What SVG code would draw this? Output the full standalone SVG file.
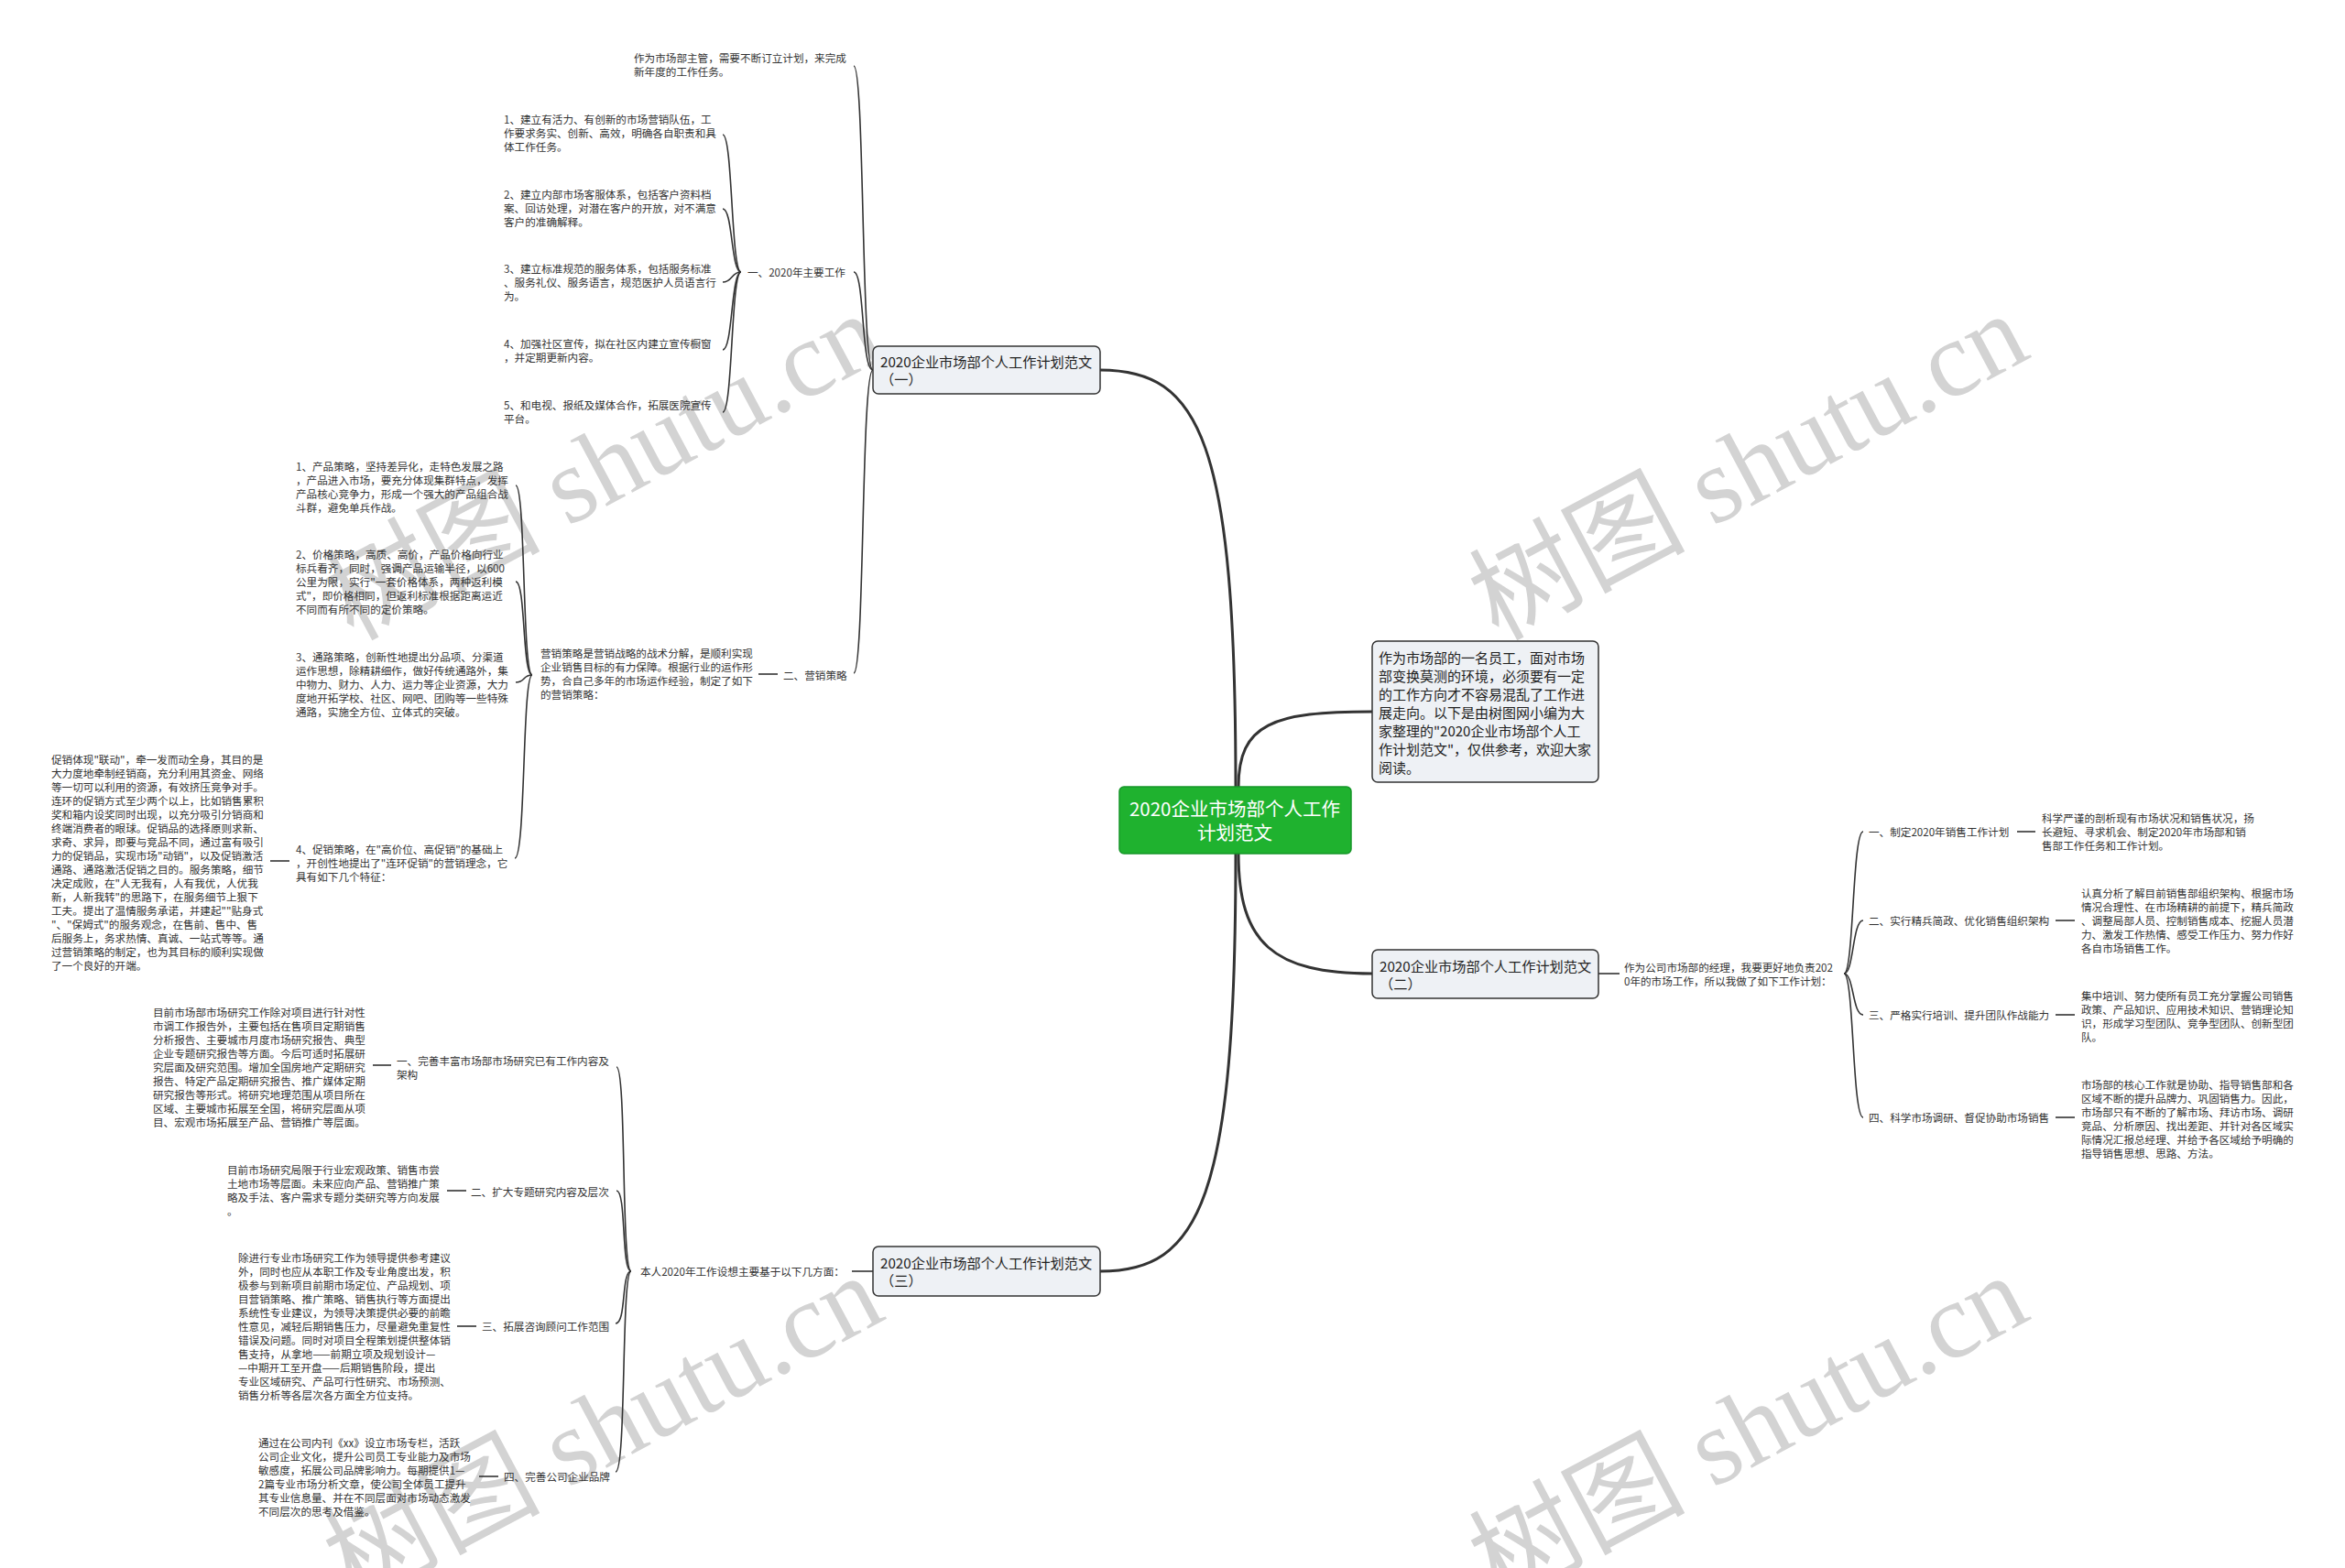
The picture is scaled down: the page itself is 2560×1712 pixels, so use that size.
<svg xmlns="http://www.w3.org/2000/svg" width="2560" height="1712" viewBox="0 0 2560 1712">
<style>
.wm{font-family:"Liberation Serif","Noto Sans CJK SC",serif;font-size:118px;fill:#d3d3d3}
.t{font-family:"Noto Sans CJK SC","Microsoft YaHei",sans-serif;font-size:11.6px;fill:#333;dominant-baseline:central}
.n{font-family:"Noto Sans CJK SC",sans-serif;font-size:15.2px;fill:#222;dominant-baseline:central}
.i{font-family:"Noto Sans CJK SC",sans-serif;font-size:15px;fill:#222;dominant-baseline:central}
.r{font-family:"Noto Sans CJK SC",sans-serif;font-size:20.5px;fill:#fff;dominant-baseline:central;text-anchor:middle}
.box{fill:#eef1f5;stroke:#333;stroke-width:1.5}
.root{fill:#1fb22f;stroke:#17962a;stroke-width:1.5}
.c{fill:none;stroke:#333;stroke-width:1.6}
.cm{fill:none;stroke:#333;stroke-width:3}
</style>
<rect width="2560" height="1712" fill="#fff"/>
<g id="watermarks">
<text class="wm" x="385" y="700" transform="rotate(-28 385 700)">树图 shutu.cn</text>
<text class="wm" x="1635" y="700" transform="rotate(-28 1635 700)">树图 shutu.cn</text>
<text class="wm" x="385" y="1750" transform="rotate(-28 385 1750)">树图 shutu.cn</text>
<text class="wm" x="1635" y="1750" transform="rotate(-28 1635 1750)">树图 shutu.cn</text>
</g>
<g id="connectors">
<path class="cm" d="M1349,859 C1349,480 1310,404 1201,404"/>
<path class="cm" d="M1349,932 C1349,1310 1310,1388 1201,1388"/>
<path class="cm" d="M1352,859 C1352,790 1390,777 1498,777"/>
<path class="cm" d="M1352,932 C1352,1030 1390,1063 1498,1063"/>
<path class="c" d="M953,404 C940,404 944,72 932,72"/>
<path class="c" d="M953,404 C940,404 944,297 932,297"/>
<path class="c" d="M953,404 C940,404 944,735 932,735"/>
<path class="c" d="M809,297 C798,297 800,147 789,147"/>
<path class="c" d="M809,297 C798,297 800,228 789,228"/>
<path class="c" d="M809,297 C798,297 800,308 789,308"/>
<path class="c" d="M809,297 C798,297 800,382 789,382"/>
<path class="c" d="M809,297 C798,297 800,450 789,450"/>
<line class="c" x1="828" y1="736" x2="849" y2="736"/>
<path class="c" d="M581,737 C570,737 574,530 563,530"/>
<path class="c" d="M581,737 C570,737 574,635 563,635"/>
<path class="c" d="M581,737 C570,737 574,745 563,745"/>
<path class="c" d="M581,737 C570,737 574,937 562,937"/>
<line class="c" x1="295" y1="940" x2="316" y2="940"/>
<line class="c" x1="1745" y1="1063" x2="1768" y2="1063"/>
<path class="c" d="M2013,1063 C2024,1063 2022,908 2034,908"/>
<path class="c" d="M2013,1063 C2024,1063 2022,1005 2034,1005"/>
<path class="c" d="M2013,1063 C2024,1063 2022,1108 2034,1108"/>
<path class="c" d="M2013,1063 C2024,1063 2022,1220 2034,1220"/>
<line class="c" x1="2202" y1="908" x2="2222" y2="908"/>
<line class="c" x1="2244" y1="1005" x2="2265" y2="1005"/>
<line class="c" x1="2244" y1="1108" x2="2265" y2="1108"/>
<line class="c" x1="2244" y1="1220" x2="2265" y2="1220"/>
<line class="c" x1="930" y1="1388" x2="953" y2="1388"/>
<path class="c" d="M689,1388 C678,1388 684,1165 673,1165"/>
<path class="c" d="M689,1388 C678,1388 684,1300 673,1300"/>
<path class="c" d="M689,1388 C678,1388 684,1445 672,1445"/>
<path class="c" d="M689,1388 C678,1388 684,1607 672,1607"/>
<line class="c" x1="407" y1="1163" x2="427" y2="1163"/>
<line class="c" x1="488" y1="1300" x2="509" y2="1300"/>
<line class="c" x1="499" y1="1448" x2="520" y2="1448"/>
<line class="c" x1="523" y1="1612" x2="544" y2="1612"/>
</g>
<g id="root">
<rect class="root" x="1222" y="859" width="253" height="73" rx="5"/>
<text class="r" x="1348" y="882">2020企业市场部个人工作</text>
<text class="r" x="1348" y="908">计划范文</text>
</g>
<g id="intro">
<rect class="box" x="1498" y="700" width="247" height="154" rx="6"/>
<text class="i" x="1505" y="717">作为市场部的一名员工，面对市场</text>
<text class="i" x="1505" y="737">部变换莫测的环境，必须要有一定</text>
<text class="i" x="1505" y="757">的工作方向才不容易混乱了工作进</text>
<text class="i" x="1505" y="777">展走向。以下是由树图网小编为大</text>
<text class="i" x="1505" y="797">家整理的"2020企业市场部个人工</text>
<text class="i" x="1505" y="817">作计划范文"，仅供参考，欢迎大家</text>
<text class="i" x="1505" y="837">阅读。</text>
</g>
<g id="node1">
<rect class="box" x="953" y="378" width="248" height="52" rx="6"/>
<text class="n" x="961" y="394">2020企业市场部个人工作计划范文</text>
<text class="n" x="961" y="413">（一）</text>
</g>
<g id="node1-intro">
<text class="t" x="692" y="63">作为市场部主管，需要不断订立计划，来完成</text>
<text class="t" x="692" y="78">新年度的工作任务。</text>
</g>
<g id="node1-a">
<text class="t" x="816" y="297">一、2020年主要工作</text>
</g>
<g id="node1-a-items">
<text class="t" x="550" y="130">1、建立有活力、有创新的市场营销队伍，工</text>
<text class="t" x="550" y="145">作要求务实、创新、高效，明确各自职责和具</text>
<text class="t" x="550" y="160">体工作任务。</text>
<text class="t" x="550" y="212">2、建立内部市场客服体系，包括客户资料档</text>
<text class="t" x="550" y="227">案、回访处理，对潜在客户的开放，对不满意</text>
<text class="t" x="550" y="242">客户的准确解释。</text>
<text class="t" x="550" y="293">3、建立标准规范的服务体系，包括服务标准</text>
<text class="t" x="550" y="308">、服务礼仪、服务语言，规范医护人员语言行</text>
<text class="t" x="550" y="323">为。</text>
<text class="t" x="550" y="375">4、加强社区宣传，拟在社区内建立宣传橱窗</text>
<text class="t" x="550" y="390">，并定期更新内容。</text>
<text class="t" x="550" y="442">5、和电视、报纸及媒体合作，拓展医院宣传</text>
<text class="t" x="550" y="457">平台。</text>
</g>
<g id="node1-b">
<text class="t" x="855" y="737">二、营销策略</text>
<text class="t" x="590" y="713">营销策略是营销战略的战术分解，是顺利实现</text>
<text class="t" x="590" y="728">企业销售目标的有力保障。根据行业的运作形</text>
<text class="t" x="590" y="743">势，合自己多年的市场运作经验，制定了如下</text>
<text class="t" x="590" y="758">的营销策略：</text>
</g>
<g id="node1-b-items">
<text class="t" x="323" y="509">1、产品策略，坚持差异化，走特色发展之路</text>
<text class="t" x="323" y="524">，产品进入市场，要充分体现集群特点，发挥</text>
<text class="t" x="323" y="539">产品核心竞争力，形成一个强大的产品组合战</text>
<text class="t" x="323" y="554">斗群，避免单兵作战。</text>
<text class="t" x="323" y="605">2、价格策略，高质、高价，产品价格向行业</text>
<text class="t" x="323" y="620">标兵看齐，同时，强调产品运输半径，以600</text>
<text class="t" x="323" y="635">公里为限，实行"一套价格体系，两种返利模</text>
<text class="t" x="323" y="650">式"，即价格相同，但返利标准根据距离运近</text>
<text class="t" x="323" y="665">不同而有所不同的定价策略。</text>
<text class="t" x="323" y="717">3、通路策略，创新性地提出分品项、分渠道</text>
<text class="t" x="323" y="732">运作思想，除精耕细作，做好传统通路外，集</text>
<text class="t" x="323" y="747">中物力、财力、人力、运力等企业资源，大力</text>
<text class="t" x="323" y="762">度地开拓学校、社区、网吧、团购等一些特殊</text>
<text class="t" x="323" y="777">通路，实施全方位、立体式的突破。</text>
<text class="t" x="323" y="927">4、促销策略，在"高价位、高促销"的基础上</text>
<text class="t" x="323" y="942">，开创性地提出了"连环促销"的营销理念，它</text>
<text class="t" x="323" y="957">具有如下几个特征：</text>
</g>
<g id="node1-b-4-detail">
<text class="t" x="56" y="829">促销体现"联动"，牵一发而动全身，其目的是</text>
<text class="t" x="56" y="844">大力度地牵制经销商，充分利用其资金、网络</text>
<text class="t" x="56" y="859">等一切可以利用的资源，有效挤压竞争对手。</text>
<text class="t" x="56" y="874">连环的促销方式至少两个以上，比如销售累积</text>
<text class="t" x="56" y="889">奖和箱内设奖同时出现，以充分吸引分销商和</text>
<text class="t" x="56" y="904">终端消费者的眼球。促销品的选择原则求新、</text>
<text class="t" x="56" y="919">求奇、求异，即要与竞品不同，通过富有吸引</text>
<text class="t" x="56" y="934">力的促销品，实现市场"动销"，以及促销激活</text>
<text class="t" x="56" y="949">通路、通路激活促销之目的。服务策略，细节</text>
<text class="t" x="56" y="964">决定成败，在"人无我有，人有我优，人优我</text>
<text class="t" x="56" y="979">新，人新我转"的思路下，在服务细节上狠下</text>
<text class="t" x="56" y="994">工夫。提出了温情服务承诺，并建起""贴身式</text>
<text class="t" x="56" y="1009">"、"保姆式"的服务观念，在售前、售中、售</text>
<text class="t" x="56" y="1024">后服务上，务求热情、真诚、一站式等等。通</text>
<text class="t" x="56" y="1039">过营销策略的制定，也为其目标的顺利实现做</text>
<text class="t" x="56" y="1054">了一个良好的开端。</text>
</g>
<g id="node2">
<rect class="box" x="1498" y="1037" width="247" height="53" rx="6"/>
<text class="n" x="1506" y="1054">2020企业市场部个人工作计划范文</text>
<text class="n" x="1506" y="1073">（二）</text>
</g>
<g id="node2-intro">
<text class="t" x="1773" y="1056">作为公司市场部的经理，我要更好地负责202</text>
<text class="t" x="1773" y="1071">0年的市场工作，所以我做了如下工作计划：</text>
</g>
<g id="node2-items">
<text class="t" x="2040" y="908">一、制定2020年销售工作计划</text>
<text class="t" x="2229" y="893">科学严谨的剖析现有市场状况和销售状况，扬</text>
<text class="t" x="2229" y="908">长避短、寻求机会、制定2020年市场部和销</text>
<text class="t" x="2229" y="923">售部工作任务和工作计划。</text>
<text class="t" x="2040" y="1005">二、实行精兵简政、优化销售组织架构</text>
<text class="t" x="2272" y="975">认真分析了解目前销售部组织架构、根据市场</text>
<text class="t" x="2272" y="990">情况合理性、在市场精耕的前提下，精兵简政</text>
<text class="t" x="2272" y="1005">、调整局部人员、控制销售成本、挖掘人员潜</text>
<text class="t" x="2272" y="1020">力、激发工作热情、感受工作压力、努力作好</text>
<text class="t" x="2272" y="1035">各自市场销售工作。</text>
<text class="t" x="2040" y="1108">三、严格实行培训、提升团队作战能力</text>
<text class="t" x="2272" y="1087">集中培训、努力使所有员工充分掌握公司销售</text>
<text class="t" x="2272" y="1102">政策、产品知识、应用技术知识、营销理论知</text>
<text class="t" x="2272" y="1117">识，形成学习型团队、竞争型团队、创新型团</text>
<text class="t" x="2272" y="1132">队。</text>
<text class="t" x="2040" y="1220">四、科学市场调研、督促协助市场销售</text>
<text class="t" x="2272" y="1184">市场部的核心工作就是协助、指导销售部和各</text>
<text class="t" x="2272" y="1199">区域不断的提升品牌力、巩固销售力。因此，</text>
<text class="t" x="2272" y="1214">市场部只有不断的了解市场、拜访市场、调研</text>
<text class="t" x="2272" y="1229">竞品、分析原因、找出差距、并针对各区域实</text>
<text class="t" x="2272" y="1244">际情况汇报总经理、并给予各区域给予明确的</text>
<text class="t" x="2272" y="1259">指导销售思想、思路、方法。</text>
</g>
<g id="node3">
<rect class="box" x="953" y="1361" width="248" height="54" rx="6"/>
<text class="n" x="961" y="1378">2020企业市场部个人工作计划范文</text>
<text class="n" x="961" y="1397">（三）</text>
</g>
<g id="node3-intro">
<text class="t" x="699" y="1388">本人2020年工作设想主要基于以下几方面：</text>
</g>
<g id="node3-items">
<text class="t" x="433" y="1158">一、完善丰富市场部市场研究已有工作内容及</text>
<text class="t" x="433" y="1173">架构</text>
<text class="t" x="167" y="1105">目前市场部市场研究工作除对项目进行针对性</text>
<text class="t" x="167" y="1120">市调工作报告外，主要包括在售项目定期销售</text>
<text class="t" x="167" y="1135">分析报告、主要城市月度市场研究报告、典型</text>
<text class="t" x="167" y="1150">企业专题研究报告等方面。今后可适时拓展研</text>
<text class="t" x="167" y="1165">究层面及研究范围。增加全国房地产定期研究</text>
<text class="t" x="167" y="1180">报告、特定产品定期研究报告、推广媒体定期</text>
<text class="t" x="167" y="1195">研究报告等形式。将研究地理范围从项目所在</text>
<text class="t" x="167" y="1210">区域、主要城市拓展至全国，将研究层面从项</text>
<text class="t" x="167" y="1225">目、宏观市场拓展至产品、营销推广等层面。</text>
<text class="t" x="514" y="1301">二、扩大专题研究内容及层次</text>
<text class="t" x="248" y="1277">目前市场研究局限于行业宏观政策、销售市尝</text>
<text class="t" x="248" y="1292">土地市场等层面。未来应向产品、营销推广策</text>
<text class="t" x="248" y="1307">略及手法、客户需求专题分类研究等方向发展</text>
<text class="t" x="248" y="1322">。</text>
<text class="t" x="526" y="1448">三、拓展咨询顾问工作范围</text>
<text class="t" x="260" y="1373">除进行专业市场研究工作为领导提供参考建议</text>
<text class="t" x="260" y="1388">外，同时也应从本职工作及专业角度出发，积</text>
<text class="t" x="260" y="1403">极参与到新项目前期市场定位、产品规划、项</text>
<text class="t" x="260" y="1418">目营销策略、推广策略、销售执行等方面提出</text>
<text class="t" x="260" y="1433">系统性专业建议，为领导决策提供必要的前瞻</text>
<text class="t" x="260" y="1448">性意见，减轻后期销售压力，尽量避免重复性</text>
<text class="t" x="260" y="1463">错误及问题。同时对项目全程策划提供整体销</text>
<text class="t" x="260" y="1478">售支持，从拿地——前期立项及规划设计—</text>
<text class="t" x="260" y="1493">—中期开工至开盘——后期销售阶段，提出</text>
<text class="t" x="260" y="1508">专业区域研究、产品可行性研究、市场预测、</text>
<text class="t" x="260" y="1523">销售分析等各层次各方面全方位支持。</text>
<text class="t" x="550" y="1612">四、完善公司企业品牌</text>
<text class="t" x="282" y="1575">通过在公司内刊《xx》设立市场专栏，活跃</text>
<text class="t" x="282" y="1590">公司企业文化，提升公司员工专业能力及市场</text>
<text class="t" x="282" y="1605">敏感度，拓展公司品牌影响力。每期提供1—</text>
<text class="t" x="282" y="1620">2篇专业市场分析文章，使公司全体员工提升</text>
<text class="t" x="282" y="1635">其专业信息量、并在不同层面对市场动态激发</text>
<text class="t" x="282" y="1650">不同层次的思考及借鉴。</text>
</g>
</svg>
